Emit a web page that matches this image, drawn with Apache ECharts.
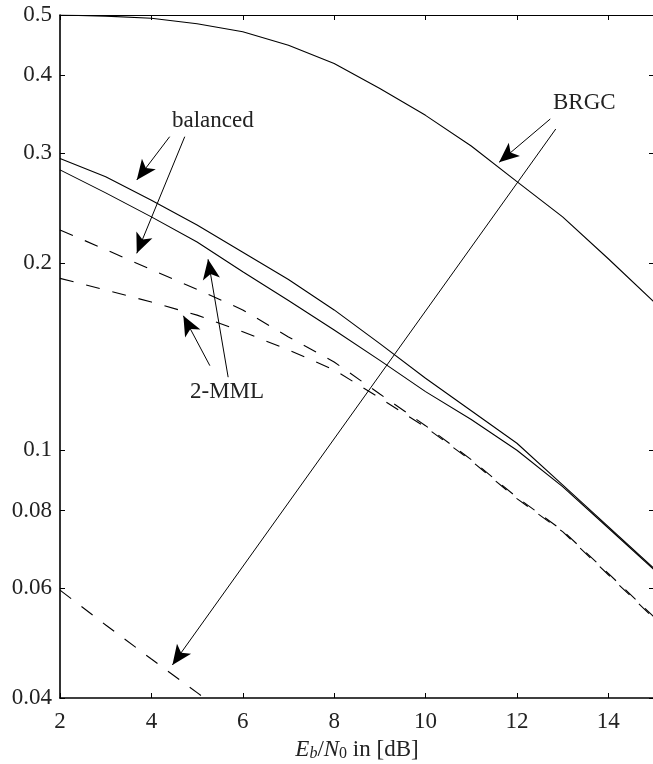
<!DOCTYPE html>
<html>
<head>
<meta charset="utf-8">
<script src="https://cdn.jsdelivr.net/npm/echarts@6/dist/echarts.min.js"></script>
<style>
  html, body { margin: 0; padding: 0; background: #fff; }
  #chart { width: 653px; height: 764px; }
</style>
</head>
<body>
<div id="chart"></div>
<script>
// x values (Eb/N0 in dB)
let xValues = [2, 3, 4, 5, 6, 7, 8, 9, 10, 11, 12, 13, 14, 15];
let brgcDashedX = [2, 3, 4, 5, 6];

// curves
let brgcSolid = [0.500, 0.498, 0.494, 0.484, 0.470, 0.447, 0.418, 0.381, 0.345, 0.308, 0.270, 0.237, 0.203, 0.173];
let balancedSolid = [0.294, 0.275, 0.252, 0.230, 0.208, 0.188, 0.168, 0.1483, 0.1305, 0.1157, 0.1026, 0.0880, 0.0754, 0.0646];
let mmlSolid = [0.282, 0.259, 0.237, 0.216, 0.1935, 0.174, 0.156, 0.1394, 0.1242, 0.1120, 0.1000, 0.0874, 0.0750, 0.0643];
let balancedDashed = [0.2258, 0.210, 0.195, 0.1813, 0.168, 0.152, 0.1386, 0.1231, 0.1095, 0.0966, 0.0840, 0.0743, 0.0634, 0.0540];
let mmlDashed = [0.1888, 0.1808, 0.173, 0.1648, 0.155, 0.1449, 0.1346, 0.1213, 0.1089, 0.0962, 0.0836, 0.0740, 0.0631, 0.0537];
let brgcDashed = [0.0596, 0.0524, 0.0462, 0.0408, 0.0360];

// tick labels
let xTicks = [2, 4, 6, 8, 10, 12, 14];
let yTicks = [0.04, 0.06, 0.08, 0.1, 0.2, 0.3, 0.4, 0.5];

// annotation arrows: [from x, from y, to x, to y]
let arrows = [
    [4.40, 0.3188, 3.68, 0.2716],
    [4.73, 0.3188, 3.68, 0.2071],
    [5.28, 0.1367, 4.70, 0.1644],
    [5.68, 0.1310, 5.24, 0.2026],
    [12.73, 0.3404, 11.61, 0.290],
    [12.85, 0.328, 4.46, 0.0452]
];

let fontFamily = '"Liberation Serif", "DejaVu Serif", serif';
let textColor = '#222';

function lg(v) {
    return Math.log10(v);
}

function make_series(xs, ys, dashed) {
    let data = [];
    for (let i = 0; i < xs.length; i++) {
        data.push([xs[i], lg(ys[i])]);
    }
    return {
        type: 'line',
        data: data,
        showSymbol: false,
        symbol: 'none',
        smooth: false,
        clip: true,
        lineStyle: {color: '#000', width: 1.1, type: dashed ? [14, 13] : 'solid'},
        silent: true
    };
}

let chart = echarts.init(document.getElementById('chart'), null, {renderer: 'canvas'});

let series = [
    make_series(xValues, brgcSolid, false),
    make_series(xValues, balancedSolid, false),
    make_series(xValues, mmlSolid, false),
    make_series(xValues, balancedDashed, true),
    make_series(xValues, mmlDashed, true),
    make_series(brgcDashedX, brgcDashed, true)
];

// arrows go on the first series as markLines in data coordinates
series[0].markLine = {
    silent: true,
    animation: false,
    symbolSize: [13, 20],
    label: {show: false},
    lineStyle: {color: '#000', width: 1, type: 'solid'},
    data: arrows.map(function (a) {
        return [
            {coord: [a[0], lg(a[1])], symbol: 'none'},
            {coord: [a[2], lg(a[3])], symbol: 'arrow'}
        ];
    })
};

let yLabelFormatter = function (v) {
    return parseFloat(Math.pow(10, v).toPrecision(2)).toString();
};
let yTickValues = yTicks.map(lg);

let option = {
    animation: false,
    backgroundColor: '#fff',
    grid: {left: 60, top: 15, width: 594, height: 683, containLabel: false, outerBoundsMode: 'none'},
    xAxis: [{
        type: 'value',
        min: 2,
        max: 15,
        position: 'bottom',
        axisLine: {show: true, lineStyle: {color: '#000', width: 1.6}},
        axisTick: {show: true, inside: true, length: 5, customValues: xTicks, lineStyle: {color: '#000', width: 1}},
        axisLabel: {
            customValues: xTicks, margin: 12, color: textColor,
            fontFamily: fontFamily, fontSize: 23
        },
        splitLine: {show: false},
        name: '{i|E}{s|b}{n|/}{i|N}{z|0}{n| in [dB]}',
        nameLocation: 'middle',
        nameGap: 40,
        nameTextStyle: {
            color: textColor,
            rich: {
                i: {fontFamily: fontFamily, fontSize: 23, fontStyle: 'italic', color: textColor},
                n: {fontFamily: fontFamily, fontSize: 23, color: textColor},
                s: {fontFamily: fontFamily, fontSize: 16, fontStyle: 'italic', color: textColor, verticalAlign: 'bottom', padding: [8, 0, 0, 0]},
                z: {fontFamily: fontFamily, fontSize: 16, color: textColor, verticalAlign: 'bottom', padding: [8, 0, 0, 0]}
            }
        }
    }, {
        type: 'value',
        min: 2,
        max: 15,
        position: 'top',
        axisLine: {show: true, lineStyle: {color: '#000', width: 1.2}},
        axisTick: {show: true, inside: true, length: 5, customValues: xTicks, lineStyle: {color: '#000', width: 1}},
        axisLabel: {show: false},
        splitLine: {show: false}
    }],
    yAxis: [{
        type: 'value',
        min: lg(0.04),
        max: lg(0.5),
        position: 'left',
        axisLine: {show: true, lineStyle: {color: '#000', width: 1.6}},
        axisTick: {show: true, inside: true, length: 5, customValues: yTickValues, lineStyle: {color: '#000', width: 1}},
        axisLabel: {
            customValues: yTickValues, formatter: yLabelFormatter, margin: 8,
            padding: [3, 0, 0, 0],
            color: textColor, fontFamily: fontFamily, fontSize: 23
        },
        splitLine: {show: false}
    }, {
        type: 'value',
        min: lg(0.04),
        max: lg(0.5),
        position: 'right',
        axisLine: {show: true, lineStyle: {color: '#000', width: 1.2}},
        axisTick: {show: true, inside: true, length: 5, customValues: yTickValues, lineStyle: {color: '#000', width: 1}},
        axisLabel: {show: false},
        splitLine: {show: false}
    }],
    series: series,
    graphic: [
        {type: 'text', left: 172, top: 109, style: {text: 'balanced', fill: textColor, font: '23px ' + fontFamily}},
        {type: 'text', left: 553, top: 91, style: {text: 'BRGC', fill: textColor, font: '23px ' + fontFamily}},
        {type: 'text', left: 190, top: 380, style: {text: '2-MML', fill: textColor, font: '23px ' + fontFamily}}
    ]
};

chart.setOption(option);
</script>
</body>
</html>
